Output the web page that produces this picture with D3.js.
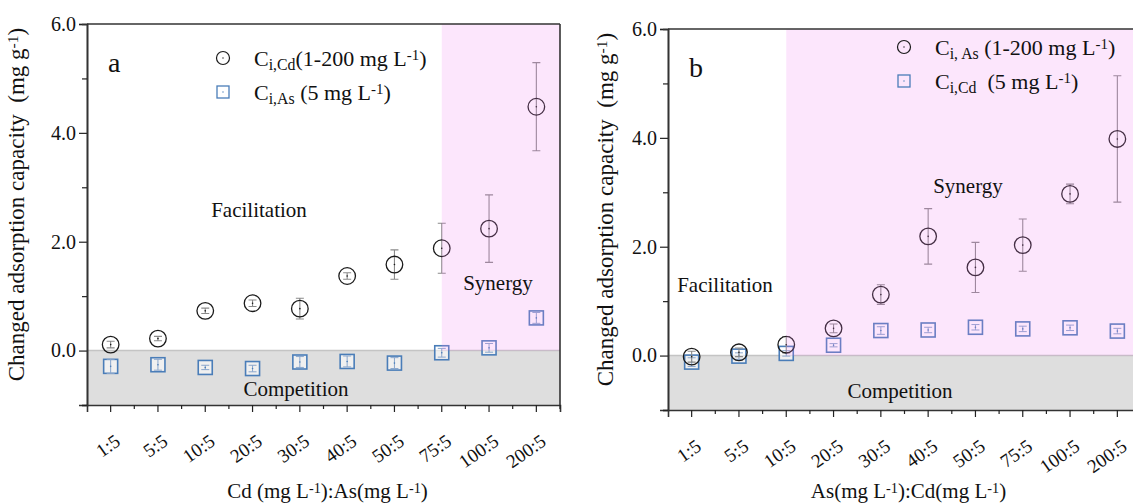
<!DOCTYPE html>
<html>
<head>
<meta charset="utf-8">
<script src="https://cdn.jsdelivr.net/npm/d3@7"></script>
<style>
  body { margin: 0; background: #fff; }
  svg text { font-family: "Liberation Serif", "Times New Roman", serif; fill: #111; }
</style>
</head>
<body>
<div id="chart"></div>
<script>
// ratios on the x axis (same for both panels)
const ratios = ["1:5", "5:5", "10:5", "20:5", "30:5", "40:5", "50:5", "75:5", "100:5", "200:5"];
const yTicks = [0, 2, 4, 6];
const yMinor = [-1, 1, 3, 5];

// panel a : Cd varied, As fixed at 5
const aCd = [0.11, 0.22, 0.73, 0.87, 0.77, 1.37, 1.58, 1.88, 2.24, 4.48];
const aCdErr = [0.06, 0.04, 0.05, 0.06, 0.19, 0.06, 0.27, 0.46, 0.62, 0.81];
const aAs = [-0.29, -0.26, -0.31, -0.33, -0.21, -0.20, -0.23, -0.04, 0.05, 0.60];
const aAsErr = [0.13, 0.10, 0.04, 0.06, 0.10, 0.10, 0.10, 0.08, 0.08, 0.10];

// panel b : As varied, Cd fixed at 5
const bAs = [-0.02, 0.06, 0.20, 0.50, 1.12, 2.19, 1.62, 2.03, 2.97, 3.98];
const bAsErr = [0.10, 0.08, 0.15, 0.08, 0.18, 0.51, 0.46, 0.48, 0.18, 1.16];
const bCd = [-0.12, -0.01, 0.04, 0.19, 0.46, 0.47, 0.52, 0.49, 0.51, 0.45];
const bCdErr = [0.08, 0.06, 0.05, 0.03, 0.07, 0.05, 0.05, 0.05, 0.05, 0.05];

const W = 1133, H = 504;
const pw = 473, ph = 381;
const FONT = "'Liberation Serif', 'Times New Roman', serif";

const svg = d3.select("#chart").append("svg")
  .attr("width", W).attr("height", H)
  .style("font-family", FONT);

// text with sub/superscripts: parts = [[text, "sub"|"sup"|""], ...]
function richText(g, x, y, parts, size, anchor) {
  const t = g.append("text").attr("x", x).attr("y", y)
    .style("font-family", FONT).style("white-space", "pre")
    .style("font-size", size + "px").attr("text-anchor", anchor || "start");
  parts.forEach(p => {
    const s = t.append("tspan").text(p[0]);
    if (p[1] == "sub") s.attr("baseline-shift", "-28%").style("font-size", (size * 0.72) + "px");
    if (p[1] == "sup") s.attr("baseline-shift", "38%").style("font-size", (size * 0.68) + "px");
  });
  return t;
}

function panel(cfg) {
  const g = svg.append("g").attr("transform", "translate(" + cfg.x0 + "," + cfg.y0 + ")");
  const clip = "clip" + cfg.label;
  svg.append("clipPath").attr("id", clip).append("rect")
    .attr("x", -1).attr("y", -1).attr("width", Math.min(pw, W - cfg.x0) + 1).attr("height", ph + 2);

  const x = d3.scaleBand().domain(ratios).range([0, pw]);
  const cx = d => x(d) + x.bandwidth() / 2;
  const y = d3.scaleLinear().domain([-1, 6]).range([ph, 0]);

  const inner = g.append("g").attr("clip-path", "url(#" + clip + ")");

  // competition area (below zero)
  inner.append("rect")
    .attr("x", 0).attr("y", y(0)).attr("width", pw).attr("height", y(-1) - y(0))
    .attr("fill", "#dedede");
  inner.append("line")
    .attr("x1", 0).attr("x2", pw).attr("y1", y(0)).attr("y2", y(0))
    .attr("stroke", "#c4c4c4").attr("stroke-width", 1.5);

  const rows = ratios.map((r, i) => ({ r: r, c: cfg.circ[i], ce: cfg.circErr[i], s: cfg.sq[i], se: cfg.sqErr[i] }));

  // square series
  const sq = inner.selectAll(".sq").data(rows).enter().append("g").attr("class", "sq");
  sq.append("rect")
    .attr("x", d => cx(d.r) - 7).attr("y", d => y(d.s) - 7)
    .attr("width", 14).attr("height", 14)
    .attr("fill", "#fff").attr("fill-opacity", 0.55)
    .attr("stroke", "#4a7db8").attr("stroke-width", 1.6);
  sq.append("path")
    .attr("d", d => {
      const a = cx(d.r), t = y(d.s + d.se), b = y(d.s - d.se);
      return "M" + a + "," + t + "V" + b + "M" + (a - 4) + "," + t + "H" + (a + 4) + "M" + (a - 4) + "," + b + "H" + (a + 4);
    })
    .attr("stroke", "#8aa6cc").attr("stroke-width", 1).attr("fill", "none");
  sq.append("circle").attr("cx", d => cx(d.r)).attr("cy", d => y(d.s)).attr("r", 0.8).attr("fill", "#4a7db8");

  // circle series
  const ci = inner.selectAll(".ci").data(rows).enter().append("g").attr("class", "ci");
  ci.append("path")
    .attr("d", d => {
      const a = cx(d.r), t = y(d.c + d.ce), b = y(d.c - d.ce);
      return "M" + a + "," + t + "V" + b + "M" + (a - 4) + "," + t + "H" + (a + 4) + "M" + (a - 4) + "," + b + "H" + (a + 4);
    })
    .attr("stroke", "#8a8a8a").attr("stroke-width", 1.1).attr("fill", "none");
  ci.append("circle")
    .attr("cx", d => cx(d.r)).attr("cy", d => y(d.c)).attr("r", 8.3)
    .attr("fill", "none").attr("stroke", "#1a1a1a").attr("stroke-width", 1.3);
  ci.append("circle").attr("cx", d => cx(d.r)).attr("cy", d => y(d.c)).attr("r", 0.8).attr("fill", "#1a1a1a");

  // legend symbols
  const lg = g.append("g");
  lg.append("circle").attr("cx", cfg.leg[0]).attr("cy", cfg.leg[1]).attr("r", 6.5)
    .attr("fill", "none").attr("stroke", "#1a1a1a").attr("stroke-width", 1.2);
  lg.append("circle").attr("cx", cfg.leg[0]).attr("cy", cfg.leg[1]).attr("r", 0.7).attr("fill", "#1a1a1a");
  lg.append("rect").attr("x", cfg.leg[0] - 6).attr("y", cfg.leg[1] + 34 - 6).attr("width", 12).attr("height", 12)
    .attr("fill", "none").attr("stroke", "#4a7db8").attr("stroke-width", 1.3);
  lg.append("circle").attr("cx", cfg.leg[0]).attr("cy", cfg.leg[1] + 34).attr("r", 0.7).attr("fill", "#4a7db8");

  // synergy area, drawn translucent on top
  inner.append("rect")
    .attr("x", cx(cfg.synFrom)).attr("y", 0)
    .attr("width", pw - cx(cfg.synFrom)).attr("height", y(0))
    .attr("fill", "#ee82ee").attr("fill-opacity", 0.2);

  // axes
  const yAxis = d3.axisLeft(y).tickValues(yTicks).tickFormat(d3.format(".1f")).tickSize(8).tickPadding(3);
  const ya = g.append("g").call(yAxis).attr("font-family", null).attr("font-size", null);
  ya.selectAll("text").style("font-size", "20px").style("font-family", FONT).attr("fill", "#111");
  g.append("g").call(d3.axisLeft(y).tickValues(yMinor).tickSize(5).tickFormat(""));

  const xAxis = d3.axisBottom(x).tickSize(7).tickFormat("");
  g.append("g").attr("transform", "translate(0," + ph + ")").call(xAxis);
  const edges = ratios.slice(1).map(r => x(r)).concat([pw]);
  g.append("g").selectAll("line").data(edges).enter().append("line")
    .attr("x1", d => d).attr("x2", d => d).attr("y1", ph).attr("y2", ph + 4)
    .attr("stroke", "#222").attr("stroke-width", 1.2);
  g.selectAll(".domain").attr("stroke", "#333").attr("stroke-width", 1.6);
  g.selectAll(".tick line").attr("stroke", "#222").attr("stroke-width", 1.2);

  g.append("g").selectAll("text").data(ratios).enter().append("text")
    .attr("text-anchor", "end")
    .attr("transform", d => "translate(" + (cx(d) + 11) + "," + (ph + 39) + ") rotate(-35)")
    .style("font-size", "19px").style("font-family", FONT)
    .text(d => d);

  // frame (top and right)
  g.append("line").attr("x1", 0).attr("x2", pw).attr("y1", 0).attr("y2", 0)
    .attr("stroke", "#333").attr("stroke-width", 1.6);
  g.append("line").attr("x1", pw).attr("x2", pw).attr("y1", 0).attr("y2", ph)
    .attr("stroke", "#333").attr("stroke-width", 1.6);

  // panel letter
  g.append("text").attr("x", 21).attr("y", 48).style("font-size", "28px").style("font-family", FONT).text(cfg.label);

  // legend text
  richText(g, cfg.leg[0] + 31, cfg.leg[1] + 8, cfg.leg1, 22);
  richText(g, cfg.leg[0] + 31, cfg.leg[1] + 42, cfg.leg2, 22);

  // region labels
  cfg.regions.forEach(r => {
    g.append("text").attr("x", r[1]).attr("y", r[2]).attr("text-anchor", "middle")
      .style("font-size", "21px").style("font-family", FONT).text(r[0]);
  });

  // axis titles
  richText(g, 0, 0, [["Changed adsorption capacity  (mg g", ""], ["-1", "sup"], [")", ""]], 23, "middle")
    .attr("transform", "translate(" + (-cfg.ytitleDx) + "," + (ph / 2 - 10) + ") rotate(-90)");
  richText(g, pw / 2 + 4, 498 - cfg.y0, cfg.xtitle, 21, "middle");
}

panel({
  label: "a", x0: 87, y0: 24,
  circ: aCd, circErr: aCdErr, sq: aAs, sqErr: aAsErr,
  synFrom: "75:5",
  leg: [136, 34],
  leg1: [["C", ""], ["i,Cd", "sub"], ["(1-200 mg L", ""], ["-1", "sup"], [")", ""]],
  leg2: [["C", ""], ["i,As", "sub"], [" (5 mg L", ""], ["-1", "sup"], [")", ""]],
  regions: [["Facilitation", 172, 217 - 24], ["Synergy", 411, 290 - 24], ["Competition", 209, 396 - 24]],
  ytitleDx: 63,
  xtitle: [["Cd (mg L", ""], ["-1", "sup"], ["):As(mg L", ""], ["-1", "sup"], [")", ""]]
});

panel({
  label: "b", x0: 668, y0: 29,
  circ: bAs, circErr: bAsErr, sq: bCd, sqErr: bCdErr,
  synFrom: "10:5",
  leg: [236, 18],
  leg1: [["C", ""], ["i, As", "sub"], [" (1-200 mg L", ""], ["-1", "sup"], [")", ""]],
  leg2: [["C", ""], ["i,Cd", "sub"], ["  (5 mg L", ""], ["-1", "sup"], [")", ""]],
  regions: [["Facilitation", 57, 292 - 29], ["Synergy", 300, 193 - 29], ["Competition", 232, 398 - 29]],
  ytitleDx: 55,
  xtitle: [["As(mg L", ""], ["-1", "sup"], ["):Cd(mg L", ""], ["-1", "sup"], [")", ""]]
});
</script>
</body>
</html>
